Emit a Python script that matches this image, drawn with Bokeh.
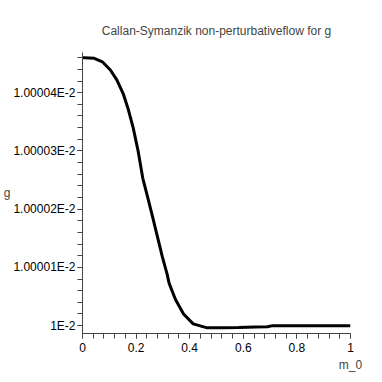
from bokeh.plotting import figure
from bokeh.models import FixedTicker, CustomJSTickFormatter, Range1d
from bokeh.embed import file_html
from bokeh.resources import INLINE

# data
m0 = [0.0, 0.007, 0.044, 0.074, 0.104, 0.128, 0.153, 0.171, 0.189, 0.207, 0.225, 0.244,
      0.262, 0.280, 0.298, 0.316, 0.323, 0.347, 0.377, 0.413, 0.462, 0.523, 0.582, 0.644,
      0.690, 0.710, 1.0]
g = [1.0000460e-2, 1.0000460e-2, 1.0000459e-2, 1.0000453e-2, 1.0000439e-2, 1.0000422e-2,
     1.0000397e-2, 1.0000371e-2, 1.0000340e-2, 1.0000301e-2, 1.0000253e-2, 1.0000219e-2,
     1.0000186e-2, 1.0000152e-2, 1.0000118e-2, 1.0000088e-2, 1.0000073e-2, 1.0000045e-2,
     1.0000020e-2, 1.0000003e-2, 0.99999965e-2, 0.99999965e-2, 0.99999968e-2, 0.99999975e-2,
     0.99999980e-2, 1.0000000e-2, 1.0000000e-2]

x_major = [0, 0.2, 0.4, 0.6, 0.8, 1.0]
x_minor = [i * 0.04 for i in range(26)]
y_major = [1e-2 + k * 1e-7 for k in range(5)]
y_minor = [1e-2 + k * 0.2e-7 for k in range(-1, 25)]

title = "Callan-Symanzik non-perturbativeflow for g"
x_label = "m_0"
y_label = "g"
FONT = "Liberation Sans"

p = figure(width=366, height=374, output_backend="svg", toolbar_location=None,
           x_range=Range1d(0, 1), y_range=Range1d(1e-2 - 0.135e-7, 1e-2 + 4.69e-7),
           min_border_left=0, min_border_right=16, min_border_top=52, min_border_bottom=36,
           title=title)
p.title.align = "center"
p.title.text_font = FONT
p.title.text_font_size = "12px"
p.title.text_font_style = "normal"
p.title.offset = -15
p.title.standoff = 30

p.outline_line_color = None
p.xgrid.visible = False
p.ygrid.visible = False

p.line(m0, g, line_width=3, line_color="black")

p.xaxis.ticker = FixedTicker(ticks=x_major, minor_ticks=x_minor)
p.yaxis.ticker = FixedTicker(ticks=y_major, minor_ticks=y_minor)
p.xaxis.formatter = CustomJSTickFormatter(code="return tick == 0 ? '0' : (tick == 1 ? '1' : tick.toFixed(1));")
p.yaxis.formatter = CustomJSTickFormatter(code="""
const k = Math.round((tick - 0.01) / 1e-7);
return k == 0 ? '1E-2' : '1.0000' + k + 'E-2';
""")
for ax in (p.xaxis, p.yaxis):
    ax.major_label_text_font = FONT
    ax.major_label_text_font_size = "12px"
    ax.major_label_text_color = "black"
    ax.axis_line_color = "#444444"
    ax.major_tick_line_color = "#444444"
    ax.minor_tick_line_color = "#444444"
    ax.major_tick_out = 5
    ax.major_tick_in = 0
    ax.minor_tick_out = 5
    ax.minor_tick_in = 0
    ax.major_label_standoff = 2
    ax.axis_label_text_font = FONT
    ax.axis_label_text_font_size = "12px"
    ax.axis_label_text_font_style = "normal"

p.xaxis.major_label_standoff = 4

p.yaxis.axis_label = y_label
p.yaxis.axis_label_orientation = "horizontal"
p.yaxis.axis_label_standoff = 0

p.xaxis.axis_label = x_label
p.xaxis.axis_label_align = "end"
p.xaxis.axis_label_standoff = 3

open("out.html", "w").write(file_html(p, INLINE))
